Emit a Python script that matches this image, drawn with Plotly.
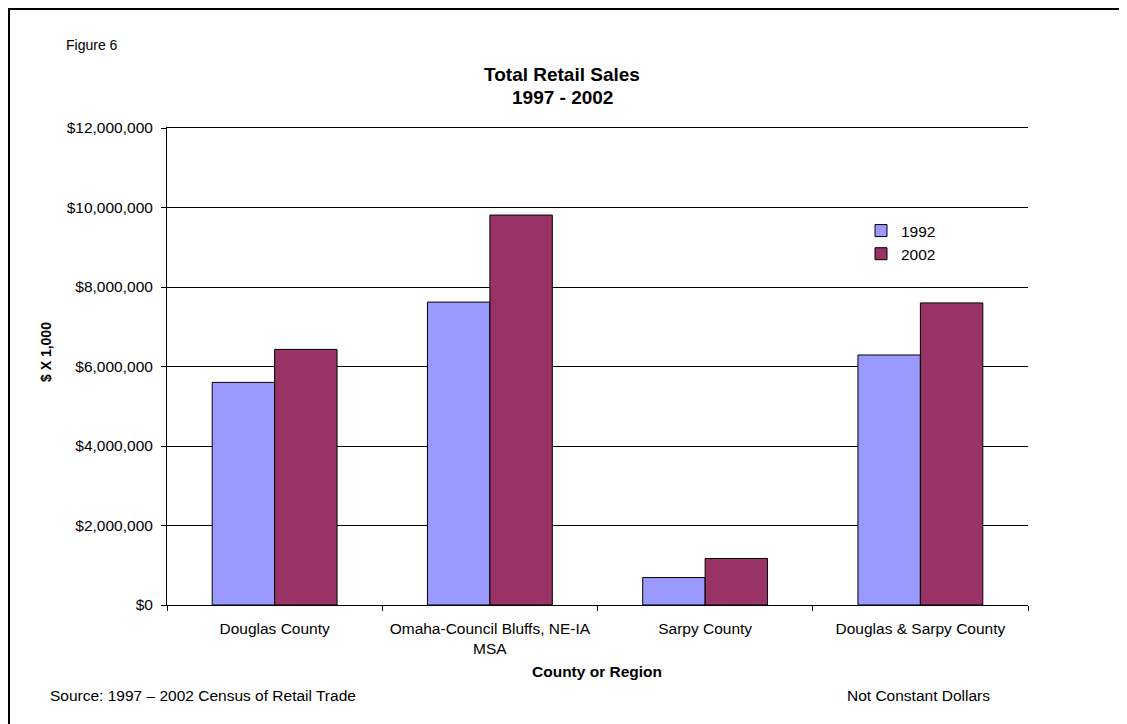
import plotly.graph_objects as go

categories = ["Douglas County", "Omaha-Council Bluffs, NE-IA<br>MSA", "Sarpy County", "Douglas & Sarpy County"]
sales_1992 = [5600000, 7620000, 690000, 6290000]
sales_2002 = [6430000, 9810000, 1170000, 7600000]
tick_vals = [0, 2000000, 4000000, 6000000, 8000000, 10000000, 12000000]
tick_text = ["$0", "$2,000,000", "$4,000,000", "$6,000,000", "$8,000,000", "$10,000,000", "$12,000,000"]

FONT = "Liberation Sans, Arial, sans-serif"

OFF = 8  # page body margin
W, H = 1127 - OFF, 724 - OFF
# target screen coordinates of the plot area
SL, SR, ST, SB = 167, 1028, 128, 605
L, R, T, B = SL - OFF, SR - OFF, ST - OFF, SB - OFF

def px(x):
    return (x - SL) / (SR - SL)

def py(y):
    return (SB - y) / (SB - ST)

fig = go.Figure()
fig.add_trace(go.Bar(name="1992", x=categories, y=sales_1992,
                     marker=dict(color="#9999FF", line=dict(color="black", width=1))))
fig.add_trace(go.Bar(name="2002", x=categories, y=sales_2002,
                     marker=dict(color="#993366", line=dict(color="black", width=1))))

fig.update_layout(
    width=W, height=H,
    margin=dict(l=L, r=W - R, t=T, b=H - B, autoexpand=False),
    paper_bgcolor="white", plot_bgcolor="white",
    barmode="group", bargap=0.42, bargroupgap=0,
    font=dict(family=FONT, size=15.5, color="black"),
    showlegend=True,
    legend=dict(x=px(861), y=py(214), xanchor="left", yanchor="top",
                bgcolor="rgba(0,0,0,0)", font=dict(size=15.5, family=FONT),
                itemwidth=30),
    xaxis=dict(showline=True, linecolor="black", linewidth=1, mirror=True,
               ticks="outside", tickson="boundaries", ticklen=5, tickcolor="black",
               ticklabelstandoff=9,
               showgrid=False, tickfont=dict(size=15.5, family=FONT)),
    yaxis=dict(range=[0, 12000000], tickvals=tick_vals, ticktext=tick_text,
               showline=True, linecolor="black", linewidth=1,
               ticks="outside", ticklen=5, tickcolor="black",
               ticklabelstandoff=5,
               showgrid=True, gridcolor="black", gridwidth=1, zeroline=False,
               tickfont=dict(size=15.5, family=FONT)),
)

annotations = [
    dict(text="Figure 6", x=px(64), y=py(45), xanchor="left", yanchor="middle",
         font=dict(size=14)),
    dict(text="<b>Total Retail Sales</b>", x=px(562), y=py(75),
         xanchor="center", yanchor="middle", font=dict(size=19)),
    dict(text="<b>1997 - 2002</b>", x=px(562), y=py(97),
         xanchor="center", yanchor="middle", font=dict(size=19)),
    dict(text="<b>$ X 1,000</b>", x=px(46), y=py(352), xanchor="center", yanchor="middle",
         textangle=-90, font=dict(size=14)),
    dict(text="<b>County or Region</b>", x=px(597), y=py(671), xanchor="center",
         yanchor="middle", font=dict(size=15.5)),
    dict(text="Source: 1997 \u2013 2002 Census of Retail Trade", x=px(48), y=py(695),
         xanchor="left", yanchor="middle", font=dict(size=15.5)),
    dict(text="Not Constant Dollars", x=px(918), y=py(695), xanchor="center",
         yanchor="middle", font=dict(size=15.5)),
]
for a in annotations:
    a.update(xref="paper", yref="paper", showarrow=False)
fig.update_layout(annotations=annotations)

# outer frame of the chart (left and top edges visible in the reference)
fig.add_shape(type="rect", xref="paper", yref="paper",
              x0=px(OFF + 1), x1=px(1140), y0=py(740), y1=py(OFF + 1),
              line=dict(color="black", width=2), fillcolor="rgba(0,0,0,0)", layer="above")

fig.write_html("out.html")
